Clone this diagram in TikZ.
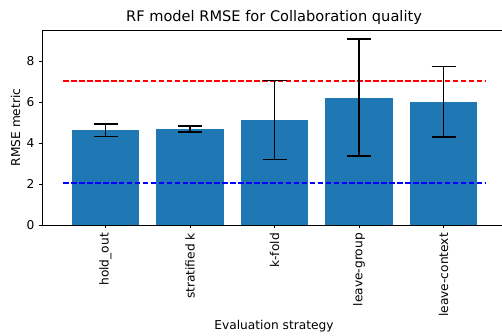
\documentclass[tikz,border=0pt]{standalone}
\usepackage{fontspec}
\setmainfont{DejaVu Sans}
\definecolor{barblue}{HTML}{1F77B4}
\tikzset{
  bar/.style={fill=barblue, draw=none},
  errbar/.style={draw=black, line width=1.3pt},
  spine/.style={draw=black, line width=0.8pt},
  tickmark/.style={draw=black, line width=0.8pt},
  refline/.style={line width=1.5pt, dash pattern=on 5.55pt off 2.4pt},
  ticklab/.style={inner sep=0pt, font=\fontsize{12.2}{14}\selectfont},
}
\begin{document}
\begin{tikzpicture}[x=1pt,y=1pt]
\useasboundingbox (0,0) rectangle (502,336);
% bars
\foreach \i/\h in {0/4.63, 1/4.68, 2/5.11, 3/6.20, 4/6.00}{
  \fill[bar] ({105.5+84.5*\i-33.8},111) rectangle ({105.5+84.5*\i+33.8},{111+20.5*\h});
}
% reference lines
\coordinate (rl) at ({105.5-0.5*84.5},{111+20.5*7.02});
\coordinate (rr) at ({105.5+4.5*84.5},{111+20.5*7.02});
\coordinate (bl) at ({105.5-0.5*84.5},{111+20.5*2.06});
\coordinate (br) at ({105.5+4.5*84.5},{111+20.5*2.06});
\draw[refline, red] (rl) -- (rr);
\draw[refline, blue] (bl) -- (br);
\foreach \i/\lo/\hi/\lab in {0/4.33/4.93/hold\_out, 1/4.54/4.83/stratified k, 2/3.19/7.04/k-fold, 3/3.37/9.07/leave-group, 4/4.29/7.72/leave-context}{
  \coordinate (lo\i) at ({105.5+84.5*\i},{111+20.5*\lo});
  \coordinate (hi\i) at ({105.5+84.5*\i},{111+20.5*\hi});
  \draw[errbar] (lo\i) -- (hi\i);
  \draw[errbar] ([xshift=-12pt]lo\i) -- ([xshift=12pt]lo\i);
  \draw[errbar] ([xshift=-12pt]hi\i) -- ([xshift=12pt]hi\i);
  \coordinate (xt\i) at ({105.5+84.5*\i},111);
  \draw[tickmark] (xt\i) -- ++(0,-3.5);
  \node[ticklab, rotate=90, anchor=east] (xl\i) at ({105.5+84.5*\i},{111-8}) {\lab};
}
% spines
\coordinate (o) at (42,111);
\coordinate (ot) at (42,306);
\coordinate (br2) at (502,111);
\coordinate (tr2) at (502,306);
\draw[spine] (ot) -- (o) -- (br2);
\draw[spine] (ot) -- (tr2);
% y ticks
\foreach \v in {0,2,4,6,8}{
  \coordinate (yt\v) at (42,{111+20.5*\v});
  \draw[tickmark] (yt\v) -- ++(-3.5,0);
  \node[ticklab, anchor=east] (yl\v) at (34.5,{111+20.5*\v}) {\v};
}
% labels
\node[font=\fontsize{12.2}{14}\selectfont, rotate=90, inner sep=0pt] (ylab) at (15.5,208.5) {RMSE metric};
\node[font=\fontsize{12.2}{14}\selectfont, inner sep=0pt] (xlab) at (274,10) {Evaluation strategy};
\node[font=\fontsize{14.6}{17}\selectfont, inner sep=0pt] (title) at (274,318.5) {RF model RMSE for Collaboration quality};
\end{tikzpicture}
\end{document}
